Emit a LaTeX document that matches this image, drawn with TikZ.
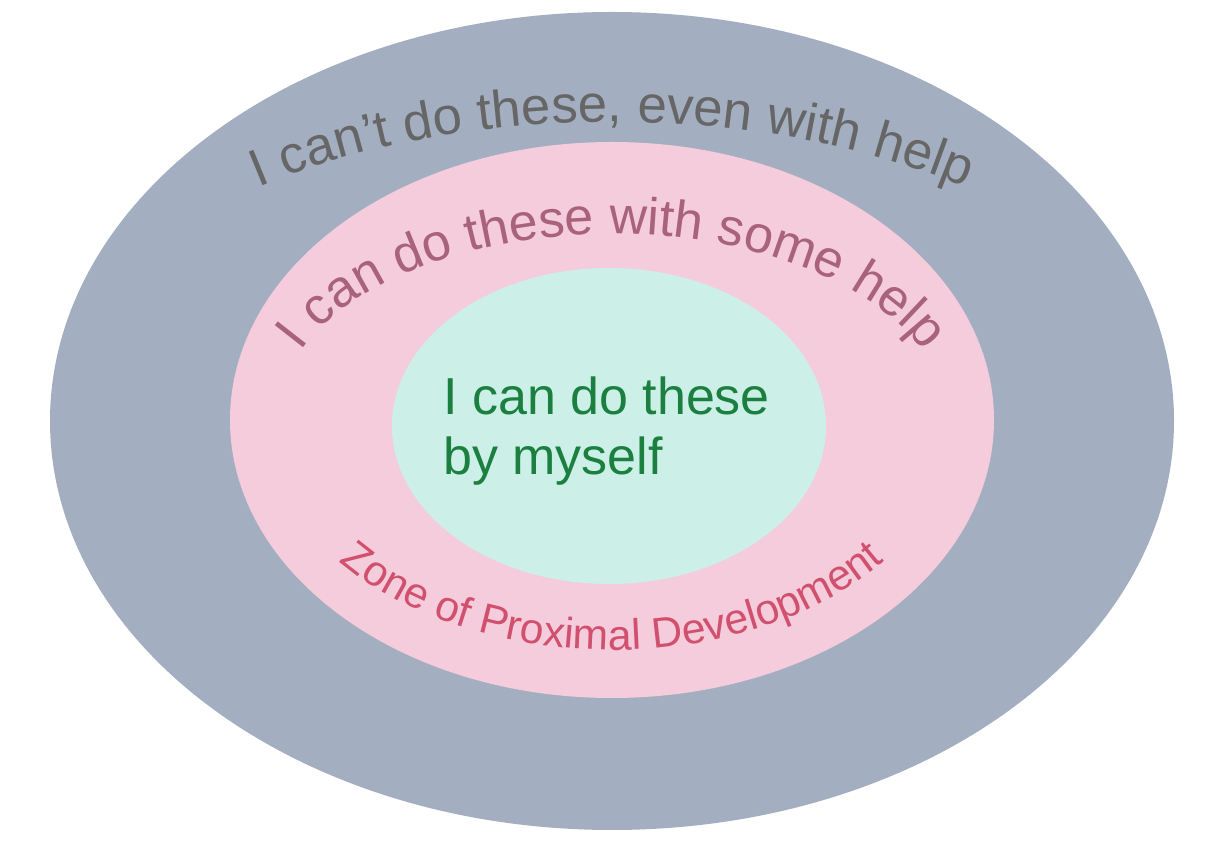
\documentclass[tikz,border=0pt]{standalone}
\usepackage{fontspec}
\setmainfont{Liberation Sans}
\usetikzlibrary{decorations.text}
\definecolor{outerc}{HTML}{A3AFC1}
\definecolor{midc}{HTML}{F5CCDC}
\definecolor{innerc}{HTML}{CCF0E8}
\definecolor{outert}{HTML}{666666}
\definecolor{midt}{HTML}{A8627A}
\definecolor{innert}{HTML}{1B7F3F}
\definecolor{zonet}{HTML}{D0506E}
\tikzset{arctext/.style={decorate,decoration={text along path,text align={center},text={#1}}}}
\begin{document}
\begin{tikzpicture}[x=0.75pt,y=0.75pt]
\useasboundingbox (0,0) rectangle (1218,846);
\fill[outerc] (612,425) ellipse[x radius=562,y radius=409];
\fill[midc] (612,426) ellipse[x radius=382,y radius=278];
\fill[innerc] (609,420) ellipse[x radius=217,y radius=158];
\coordinate (c) at (612,426);
\path[arctext={|\fontsize{39.5}{40}\selectfont\color{outert}|I can’t do these, even with help}]
  (c) ++(152:565 and 298) arc[start angle=152,end angle=28,x radius=565,y radius=298];
\path[arctext={|\fontsize{39}{40}\selectfont\color{midt}|I can do these with some help}]
  (c) ++(165:335 and 186) arc[start angle=165,end angle=15,x radius=335,y radius=186];
\path[arctext={|\fontsize{32}{34}\selectfont\color{zonet}|Zone of Proximal Development}]
  (c) ++(200:345 and 230) arc[start angle=200,end angle=340,x radius=345,y radius=230];
\node[anchor=base west,inner sep=0,text=innert,font=\fontsize{39}{40}\selectfont] (l1) at (443,431) {I can do these};
\node[anchor=base west,inner sep=0,text=innert,font=\fontsize{39}{40}\selectfont] (l2) at (443,371) {by myself};
\end{tikzpicture}
\end{document}
